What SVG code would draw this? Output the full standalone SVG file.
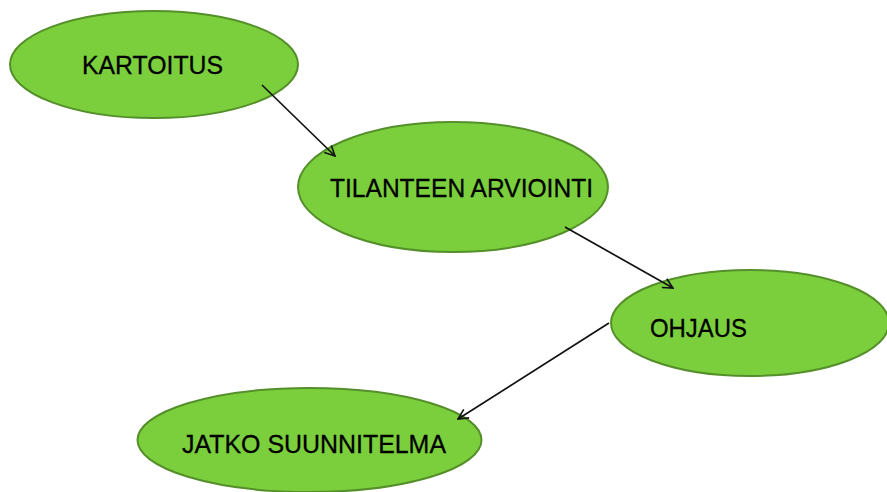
<svg xmlns="http://www.w3.org/2000/svg" width="887" height="492" viewBox="0 0 887 492">
  <defs>
    <marker id="arrow" viewBox="0 0 12 12" refX="11" refY="6" markerWidth="12" markerHeight="12" markerUnits="userSpaceOnUse" orient="auto">
      <path d="M1,1 L11,6 L1,11" fill="none" stroke="#111" stroke-width="1.6"/>
    </marker>
  </defs>
  <style>
    .node { fill: #7bcf3c; stroke: #548f2a; stroke-width: 2; }
    .label { font-family: "Liberation Sans", Arial, sans-serif; font-size: 26px; fill: #000; stroke: #000; stroke-width: 0.3; }
    .edge { fill: none; stroke: #111; stroke-width: 1.7; marker-end: url(#arrow); }
  </style>
  <rect width="887" height="492" fill="#fff"/>

  <g id="kartoitus">
    <ellipse class="node" cx="154" cy="64.5" rx="144" ry="53.5"/>
    <text class="label" x="82" y="74" textLength="141" lengthAdjust="spacingAndGlyphs">KARTOITUS</text>
  </g>

  <g id="tilanteen-arviointi">
    <ellipse class="node" cx="453" cy="187" rx="155" ry="65"/>
    <text class="label" x="330" y="197" textLength="263" lengthAdjust="spacingAndGlyphs">TILANTEEN ARVIOINTI</text>
  </g>

  <g id="ohjaus">
    <ellipse class="node" cx="750" cy="323" rx="139" ry="53"/>
    <text class="label" x="650" y="337" textLength="97" lengthAdjust="spacingAndGlyphs">OHJAUS</text>
  </g>

  <g id="jatko-suunnitelma">
    <ellipse class="node" cx="309.5" cy="440" rx="172" ry="52"/>
    <text class="label" x="182" y="453" textLength="264" lengthAdjust="spacingAndGlyphs">JATKO SUUNNITELMA</text>
  </g>

  <g id="connectors">
    <line class="edge" x1="262" y1="85" x2="335" y2="156"/>
    <line class="edge" x1="565" y1="227" x2="673" y2="288"/>
    <line class="edge" x1="609" y1="323" x2="458" y2="419"/>
  </g>
</svg>
